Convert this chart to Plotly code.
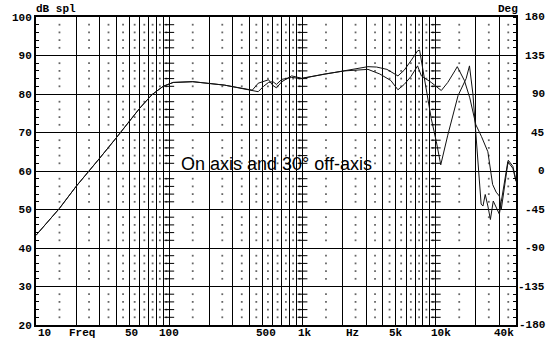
import numpy as np
import plotly.graph_objects as go

# ---------------- data ----------------
on_freq = [10, 15, 20, 26, 30, 40, 50, 60, 74, 90, 107, 150, 260, 300, 350, 420, 465, 510, 556, 600,
           637, 700, 829, 984, 1470, 2070, 2600, 3100, 3600, 4300, 5200, 5800, 6500, 7300, 7560,
           8490, 9250, 10100, 10900, 12300, 14700, 16900, 17900, 19000, 20700, 21900, 22600, 23500,
           24600, 25700, 27000, 28400, 30000, 31000, 34700, 37900, 40000]
on_db = [43.3, 50.3, 56.0, 60.6, 63.3, 68.6, 72.8, 76.3, 79.8, 82.0, 83.0, 83.2, 82.3, 81.9, 81.5,
         81.0, 82.8, 83.2, 83.7, 82.2, 81.6, 83.2, 84.7, 84.1, 85.2, 86.0, 86.6, 87.1, 87.0, 86.4,
         84.7, 86.2, 88.6, 91.2, 91.4, 81.3, 73.6, 67.6, 61.6, 69.3, 79.6, 84.0, 87.3, 80.0, 62.0,
         51.4, 50.9, 53.9, 50.9, 47.4, 52.2, 50.5, 48.8, 52.0, 62.4, 60.7, 57.3]

off_freq = [10, 15, 20, 26, 30, 40, 50, 60, 74, 90, 107, 150, 260, 300, 350, 420, 465, 510, 556, 600,
            637, 700, 829, 984, 1470, 2070, 2600, 3100, 3800, 4600, 5200, 5800, 6500, 7300, 7800,
            9250, 11000, 12300, 13900, 14500, 16400, 18000, 20000, 22000, 24600, 26700, 28400,
            30000, 31000, 33700, 35000, 37900, 40000]
off_db = [43.3, 50.3, 56.0, 60.6, 63.3, 68.6, 72.8, 76.3, 79.8, 82.0, 83.0, 83.2, 82.3, 81.9, 81.5,
          81.0, 80.6, 82.0, 83.0, 83.2, 82.5, 83.8, 84.3, 84.0, 85.2, 86.0, 86.2, 86.4, 85.2, 83.5,
          81.1, 82.5, 84.5, 87.3, 84.7, 83.0, 80.9, 83.0, 86.0, 87.1, 83.5, 79.0, 72.0, 69.0, 65.0,
          56.5, 54.5, 53.5, 50.0, 59.0, 62.8, 61.2, 57.5]

db_ticks = [20, 30, 40, 50, 60, 70, 80, 90, 100]
deg_ticks = [180, 135, 90, 45, 0, -45, -90, -135, -180]
x_label_freqs = [10, 22, 50, 100, 500, 1000, 2380, 5000, 10000, 40000]
x_label_text = ["10", "Freq", "50", "100", "500", "1k", "Hz", "5k", "10k", "40k"]
x_label_shift = [0, 0, 2, 0, 4, 2, 0, 0, 5, 0]
decade_freqs = [100, 1000, 10000]
mults = [1, 2, 3, 4, 5, 6, 7, 8, 9]
half_mults = [1.5, 2.5, 3.5, 4.5, 5.5, 6.5, 7.5, 8.5, 9.5]
decades = [10, 100, 1000, 10000]

# grid helpers
grid_freqs = [m * d for d in decades for m in mults if 10 <= m * d <= 40000]
minor_freqs = [m * d for d in decades for m in half_mults if m * d <= 40000]
minor_db = [v for v in range(22, 100, 2) if v % 10 != 0]

MONO = "Liberation Mono"
monofont = dict(family=MONO, size=11, color="#000")


def b(t):
    return "<b>" + str(t) + "</b>"


fig = go.Figure()

# dotted minor grid
gx, gy = np.meshgrid(minor_freqs, minor_db)
fig.add_trace(go.Scatter(x=gx.ravel(), y=gy.ravel(), mode="markers",
                         marker=dict(symbol="square", size=1.8, color="#666", line=dict(width=0)),
                         hoverinfo="skip", showlegend=False))
# tick crosses on decade lines
tx, ty = np.meshgrid(decade_freqs, minor_db)
fig.add_trace(go.Scatter(x=tx.ravel(), y=ty.ravel(), mode="markers",
                         marker=dict(symbol="line-ew", size=7, line=dict(width=1, color="#000")),
                         hoverinfo="skip", showlegend=False))

# curves
fig.add_trace(go.Scatter(x=on_freq, y=on_db, mode="lines", line=dict(color="#111", width=1),
                         name="On axis", showlegend=False))
fig.add_trace(go.Scatter(x=off_freq, y=off_db, mode="lines", line=dict(color="#111", width=1),
                         name="30° off-axis", showlegend=False))

fig.update_layout(
    width=550, height=352,
    margin=dict(l=34, r=34, t=14, b=27),
    paper_bgcolor="white", plot_bgcolor="white",
    showlegend=False,
    xaxis=dict(type="log", range=[1, np.log10(40000)], tickvals=grid_freqs,
               showticklabels=False, ticks="", showgrid=True, gridcolor="#000", gridwidth=1,
               showline=True, linecolor="#000", linewidth=2, mirror=True, zeroline=False),
    yaxis=dict(range=[20, 100], tickvals=db_ticks, ticktext=[b(v) for v in db_ticks],
               ticks="inside", ticklen=0,
               showgrid=True, gridcolor="#000", gridwidth=1,
               showline=True, linecolor="#000", linewidth=2, mirror=True, zeroline=False,
               tickfont=monofont,
               minor=dict(dtick=2, ticks="inside", ticklen=3, tickcolor="#000", tickwidth=1,
                          showgrid=False)),
    yaxis2=dict(range=[-180, 180], overlaying="y", side="right", showticklabels=False,
                showgrid=False, zeroline=False, ticks="",
                minor=dict(dtick=9, ticks="inside", ticklen=3, tickcolor="#000", tickwidth=1)),
)
# invisible trace to activate yaxis2
fig.add_trace(go.Scatter(x=[10], y=[0], yaxis="y2", mode="markers", marker=dict(opacity=0),
                         hoverinfo="skip", showlegend=False))

annotations = []
for f, t, s in zip(x_label_freqs, x_label_text, x_label_shift):
    anchor = "left" if f == 10 else ("right" if f == 40000 else "center")
    annotations.append(dict(x=np.log10(f), xref="x", y=0, yref="paper", yanchor="top",
                            xanchor=anchor, xshift=s, text=b(t), showarrow=False, font=monofont))
for d in deg_ticks:
    annotations.append(dict(x=1, xref="paper", xshift=31, xanchor="right",
                            y=60 + d * 40 / 180, yref="y", yanchor="middle",
                            text=b(d), showarrow=False, font=monofont))
annotations.append(dict(x=-0.004, xref="paper", xanchor="left", y=1, yref="paper", yanchor="bottom",
                        text=b("dB spl"), showarrow=False, font=monofont))
annotations.append(dict(x=0.983, xref="paper", xanchor="center", y=1, yref="paper", yanchor="bottom",
                        text=b("Deg"), showarrow=False, font=monofont))
annotations.append(dict(x=0.502, xref="paper", y=61.9, yref="y", xanchor="center", yanchor="middle",
                        text="On axis and 30° off-axis", showarrow=False,
                        font=dict(family="Liberation Sans", size=18, color="#000")))
fig.update_layout(annotations=annotations)

fig.write_html("out.html")
